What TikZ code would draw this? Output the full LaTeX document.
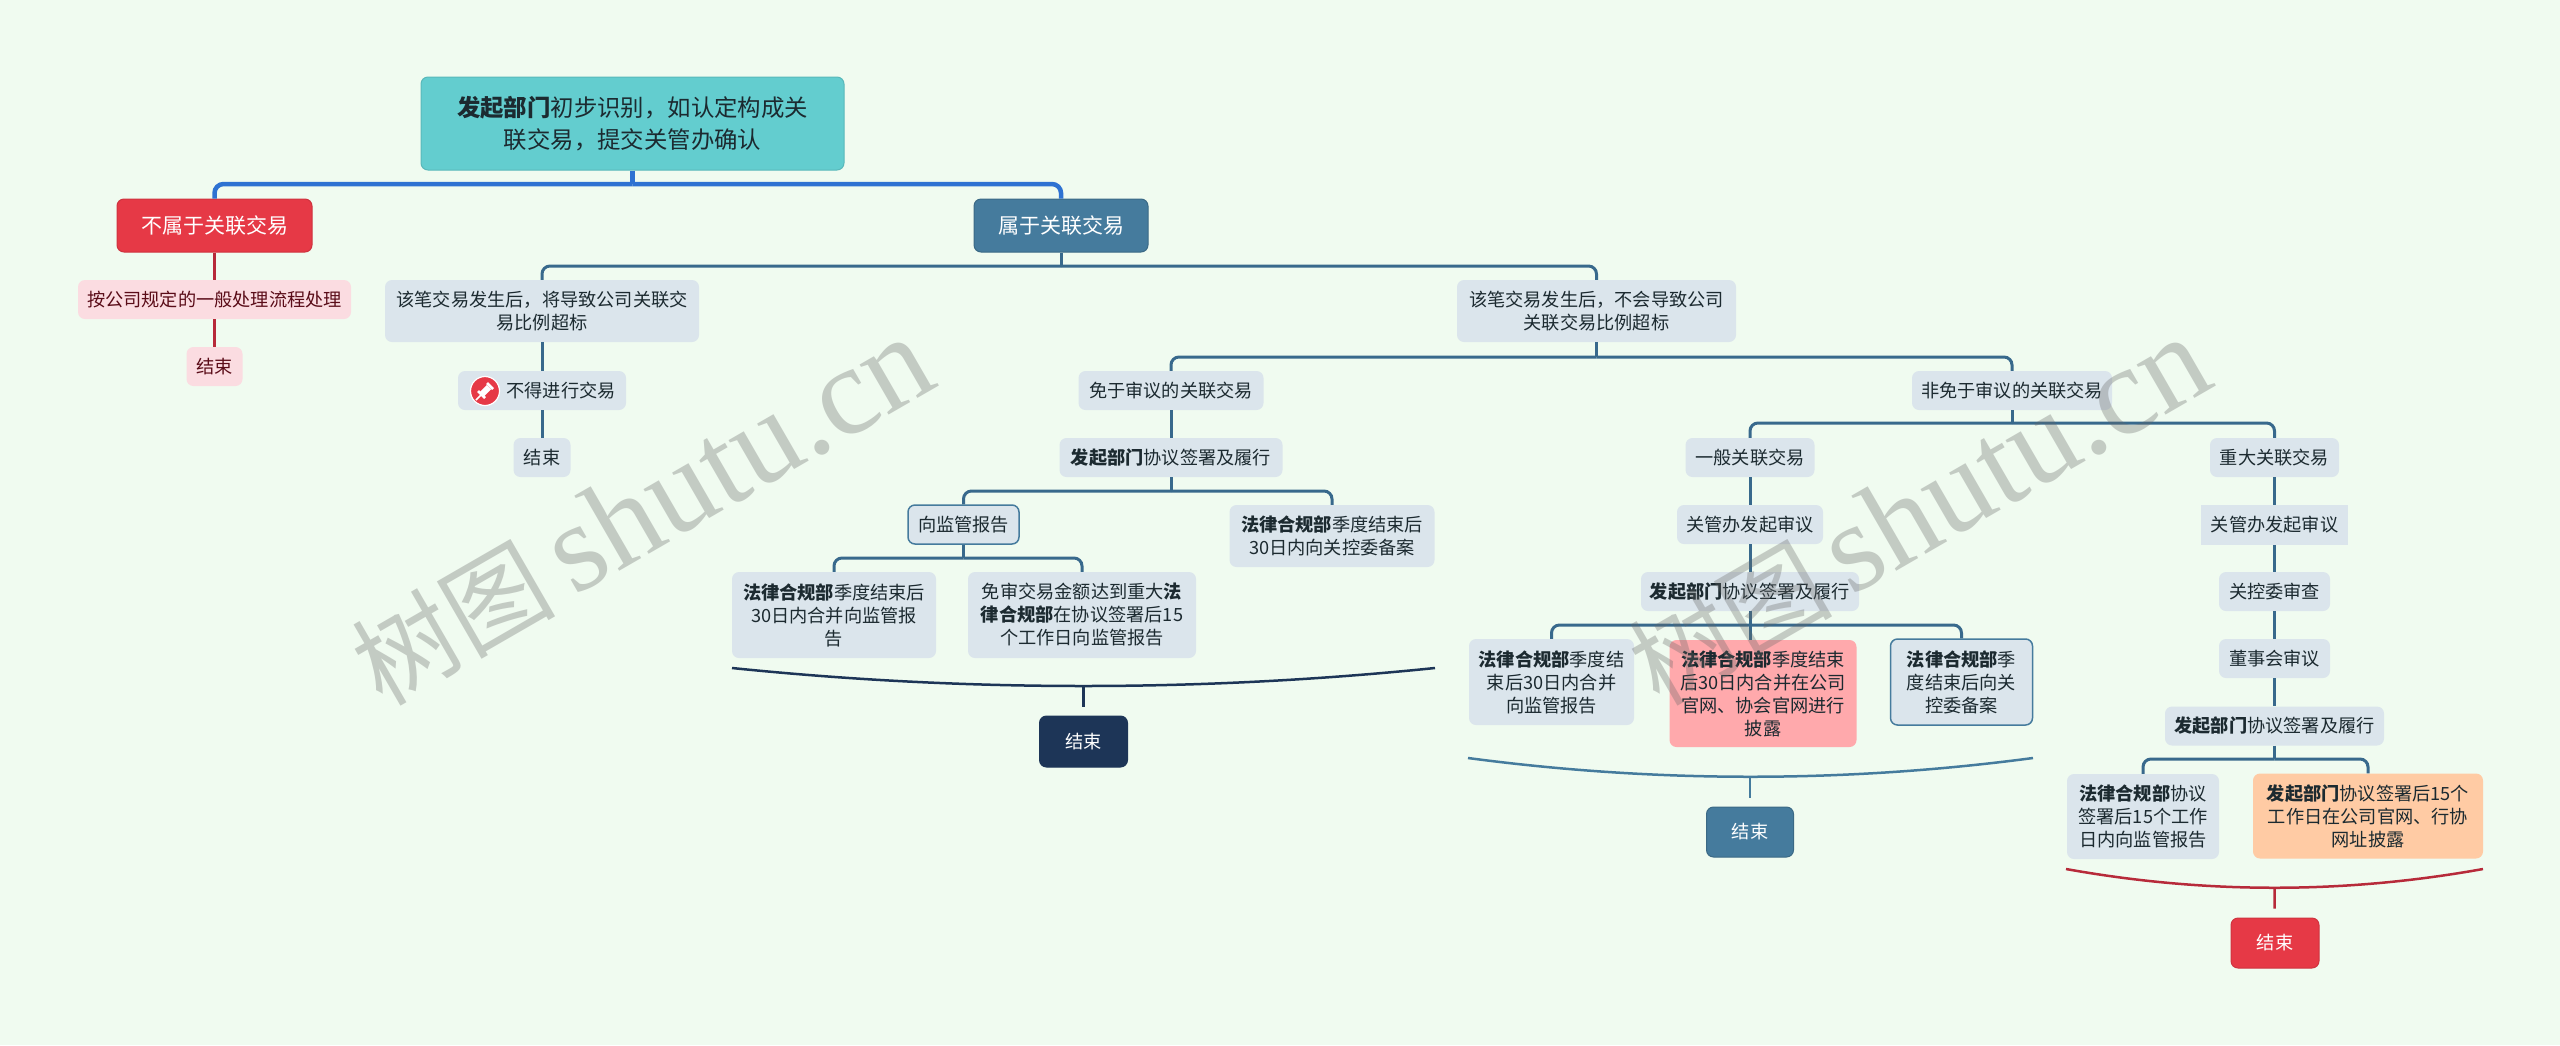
\documentclass[tikz,border=0pt]{standalone}
\usepackage{fontspec}
\setmainfont{Noto Sans CJK SC}
\newfontfamily\wmlatin{Liberation Serif}
\usetikzlibrary{positioning,calc}
\definecolor{pagebg}{HTML}{F0FBF0}
\definecolor{rootfill}{HTML}{63CDCF}
\definecolor{subfill}{HTML}{DBE5EC}
\definecolor{pinkfill}{HTML}{FBDCE1}
\definecolor{pinktext}{HTML}{5A0C18}
\definecolor{redfill}{HTML}{E63946}
\definecolor{bluefill}{HTML}{457B9D}
\definecolor{navyfill}{HTML}{1D3557}
\definecolor{rosefill}{HTML}{FFA9AC}
\definecolor{peachfill}{HTML}{FFCBA4}
\definecolor{rootline}{HTML}{2E72D2}
\definecolor{blueline}{HTML}{38698C}
\definecolor{redline}{HTML}{B72A3A}
\definecolor{inktext}{HTML}{1C2A30}
\begin{document}
\begin{tikzpicture}[
  x=1pt, y=-1pt,
  box/.style={rounded corners=7pt, inner sep=0pt, align=center, text=inktext,
    font=\fontsize{18.2}{23}\selectfont},
  subnode/.style={box, fill=subfill},
  subframed/.style={box, fill=subfill, draw=bluefill, line width=1.5pt},
  pinknode/.style={box, fill=pinkfill, text=pinktext},
  rootnode/.style={box, fill=rootfill, draw=rootfill!90!black, line width=1pt, font=\fontsize{23.4}{32}\selectfont},
  mainnode/.style={box, text=white, font=\fontsize{21}{26}\selectfont, line width=1pt},
  endnode/.style={box, text=white, line width=1pt},
  rootedge/.style={line width=4.5pt, rootline, rounded corners=9pt},
  blueedge/.style={line width=3pt, blueline, rounded corners=8pt},
  rededge/.style={line width=2.5pt, redline},
  watermark/.style={rotate=30, text=black!60, text opacity=.32, font=\fontsize{102}{118}\selectfont}
]
\useasboundingbox[fill=pagebg] (0,0) rectangle (2560,1045);
% top of the tree
\node[rootnode, minimum width=423pt, minimum height=93pt] (root) at (632.5,123.5) {\textbf{发起部门}初步识别，如认定构成关\\联交易，提交关管办确认};
\node[mainnode, fill=redfill, draw=redfill!90!black, minimum width=195pt, minimum height=53pt] (noRel) at (214.5,225.5) {不属于关联交易};
\node[mainnode, fill=bluefill, draw=bluefill!85!black, minimum width=174pt, minimum height=53pt] (yesRel) at (1061,225.5) {属于关联交易};
% not related branch
\node[pinknode, minimum width=273pt, minimum height=39pt] (general) at (214.5,299.5) {按公司规定的一般处理流程处理};
\node[pinknode, minimum width=56pt, minimum height=39pt] (endPink) at (214.5,366.5) {结束};
% over the limit branch
\node[subnode, minimum width=314pt, minimum height=62pt] (over) at (542,311) {该笔交易发生后，将导致公司关联交\\易比例超标};
\node[subnode, minimum width=168pt, minimum height=39pt] (noTrade) at (542,390.5) {\hspace{38pt}不得进行交易};
\node[subnode, minimum width=57pt, minimum height=39pt] (endOver) at (542,457.5) {结束};
\node[circle, fill=redfill, draw=white, line width=1.2pt, minimum size=29pt, inner sep=0pt] (pin) at (485,391) {};
\draw[white, line width=1.6pt] ($(pin.center)+(-9,9)$) -- ($(pin.center)+(-2,2)$);
\draw[white, line width=2.5pt] ($(pin.center)+(-7,0)$) -- ($(pin.center)+(0,7)$);
\draw[white, line width=6pt] ($(pin.center)+(-3,3)$) -- ($(pin.center)+(4,-4)$);
\draw[white, line width=2.5pt] ($(pin.center)+(2,-8)$) -- ($(pin.center)+(8,-2)$);
% within the limit branch
\node[subnode, minimum width=279pt, minimum height=62pt] (within) at (1596.5,311) {该笔交易发生后，不会导致公司\\关联交易比例超标};
\node[subnode, minimum width=185pt, minimum height=39pt] (exempt) at (1171,390.5) {免于审议的关联交易};
\node[subnode, minimum width=200pt, minimum height=39pt] (nonExempt) at (2012,390.5) {非免于审议的关联交易};
% exempt
\node[subnode, minimum width=223pt, minimum height=39pt] (signA) at (1171,457.5) {\textbf{发起部门}协议签署及履行};
\node[subframed, minimum width=111pt, minimum height=39pt] (report) at (963.5,524.5) {向监管报告};
\node[subnode, minimum width=205pt, minimum height=62pt] (fileA) at (1332,536) {\textbf{法律合规部}季度结束后\\30日内向关控委备案};
\node[subnode, minimum width=204pt, minimum height=86pt] (mergeA) at (834,615) {\textbf{法律合规部}季度结束后\\30日内合并向监管报\\告};
\node[subnode, minimum width=228pt, minimum height=86pt] (amount) at (1082,615) {免审交易金额达到重大\textbf{法}\\\textbf{律合规部}在协议签署后15\\个工作日向监管报告};
\node[endnode, fill=navyfill, draw=navyfill, minimum width=88pt, minimum height=51pt] (endNavy) at (1083.5,741.5) {结束};
% ordinary
\node[subnode, minimum width=129pt, minimum height=39pt] (ordinary) at (1750,457.5) {一般关联交易};
\node[subnode, minimum width=146pt, minimum height=39pt] (startB) at (1750,524.5) {关管办发起审议};
\node[subnode, minimum width=218pt, minimum height=39pt] (signB) at (1750,591.5) {\textbf{发起部门}协议签署及履行};
\node[subnode, minimum width=165pt, minimum height=86pt] (mergeB) at (1551.5,682) {\textbf{法律合规部}季度结\\束后30日内合并\\向监管报告};
\node[box, fill=rosefill, minimum width=187pt, minimum height=107pt] (disclose) at (1763,693.5) {\textbf{法律合规部}季度结束\\后30日内合并在公司\\官网、协会官网进行\\披露};
\node[subframed, minimum width=142pt, minimum height=86pt] (fileB) at (1961.5,682) {\textbf{法律合规部}季\\度结束后向关\\控委备案};
\node[endnode, fill=bluefill, draw=bluefill!85!black, minimum width=87pt, minimum height=50pt] (endBlue) at (1750,832) {结束};
% major
\node[subnode, minimum width=129pt, minimum height=39pt] (major) at (2274.5,457.5) {重大关联交易};
\node[subnode, rounded corners=0pt, minimum width=147pt, minimum height=40pt] (startC) at (2274.5,525) {关管办发起审议};
\node[subnode, minimum width=111pt, minimum height=39pt] (review) at (2274.5,591.5) {关控委审查};
\node[subnode, minimum width=111pt, minimum height=39pt] (board) at (2274.5,658.5) {董事会审议};
\node[subnode, minimum width=219pt, minimum height=39pt] (signC) at (2274.5,726) {\textbf{发起部门}协议签署及履行};
\node[subnode, minimum width=152pt, minimum height=85pt] (fileC) at (2143,816.5) {\textbf{法律合规部}协议\\签署后15个工作\\日内向监管报告};
\node[box, fill=peachfill, minimum width=230pt, minimum height=85pt] (site) at (2368,816) {\textbf{发起部门}协议签署后15个\\工作日在公司官网、行协\\网址披露};
\node[endnode, fill=redfill, draw=redfill!90!black, minimum width=88pt, minimum height=50pt] (endRed) at (2275,943) {结束};
% joints
\coordinate (j1) at (632.5,184);
\coordinate (j2) at (1061,266);
\coordinate (j3) at (1596.5,357);
\coordinate (j4) at (2012,423);
\coordinate (j5) at (1171,491);
\coordinate (j6) at (963.5,558);
\coordinate (j7) at (1750,625);
\coordinate (j8) at (2274.5,759);
% root edges
\draw[rootedge] (root) -- (j1);
\draw[rootedge] (noRel.north) |- (j1);
\draw[rootedge] (yesRel.north) |- (j1);
% not related edges
\draw[rededge] (noRel) -- (general);
\draw[rededge] (general) -- (endPink);
% level two
\draw[blueedge] (yesRel) -- (j2);
\draw[blueedge] (over.north) |- (j2);
\draw[blueedge] (within.north) |- (j2);
\draw[blueedge] (over) -- (noTrade);
\draw[blueedge] (noTrade) -- (endOver);
\draw[blueedge] (within) -- (j3);
\draw[blueedge] (exempt.north) |- (j3);
\draw[blueedge] (nonExempt.north) |- (j3);
% exempt edges
\draw[blueedge] (exempt) -- (signA);
\draw[blueedge] (signA) -- (j5);
\draw[blueedge] (report.north) |- (j5);
\draw[blueedge] (fileA.north) |- (j5);
\draw[blueedge] (report) -- (j6);
\draw[blueedge] (mergeA.north) |- (j6);
\draw[blueedge] (amount.north) |- (j6);
% non exempt edges
\draw[blueedge] (nonExempt) -- (j4);
\draw[blueedge] (ordinary.north) |- (j4);
\draw[blueedge] (major.north) |- (j4);
\draw[blueedge] (ordinary) -- (startB);
\draw[blueedge] (startB) -- (signB);
\draw[blueedge] (signB) -- (j7);
\draw[blueedge] (mergeB.north) |- (j7);
\draw[blueedge] (fileB.north) |- (j7);
\draw[blueedge] (j7) -- (disclose.north -| j7);
\draw[blueedge] (major) -- (startC);
\draw[blueedge] (startC) -- (review);
\draw[blueedge] (review) -- (board);
\draw[blueedge] (board) -- (signC);
\draw[blueedge] (signC) -- (j8);
\draw[blueedge] (fileC.north) |- (j8);
\draw[blueedge] (site.north) |- (j8);
% summary arcs
\coordinate (arcA) at (1083.5,687);
\coordinate (arcB) at (1750,777);
\coordinate (arcC) at (2274.5,888);
\draw[navyfill, line width=2.5pt] (732,668) .. controls (966,692) and (1201,692) .. (1435,668);
\draw[navyfill, line width=2.5pt, shorten >=9pt] (arcA) -- (endNavy);
\draw[bluefill, line width=2.5pt] (1468,758) .. controls (1656,783) and (1845,783) .. (2033,758);
\draw[bluefill, line width=2.5pt, shorten >=9pt] (arcB) -- (endBlue);
\draw[redline, line width=2.5pt] (2066,869) .. controls (2205,894) and (2344,894) .. (2483,869);
\draw[redline, line width=2.5pt, shorten >=9pt] (arcC) -- (endRed);
% site marks
\node[watermark] (markA) at (642,512) {树图\hspace{18pt}{\wmlatin\fontsize{126}{126}\selectfont shutu.cn}};
\node[watermark] (markB) at (1919,512) {树图\hspace{18pt}{\wmlatin\fontsize{126}{126}\selectfont shutu.cn}};
\end{tikzpicture}
\end{document}
